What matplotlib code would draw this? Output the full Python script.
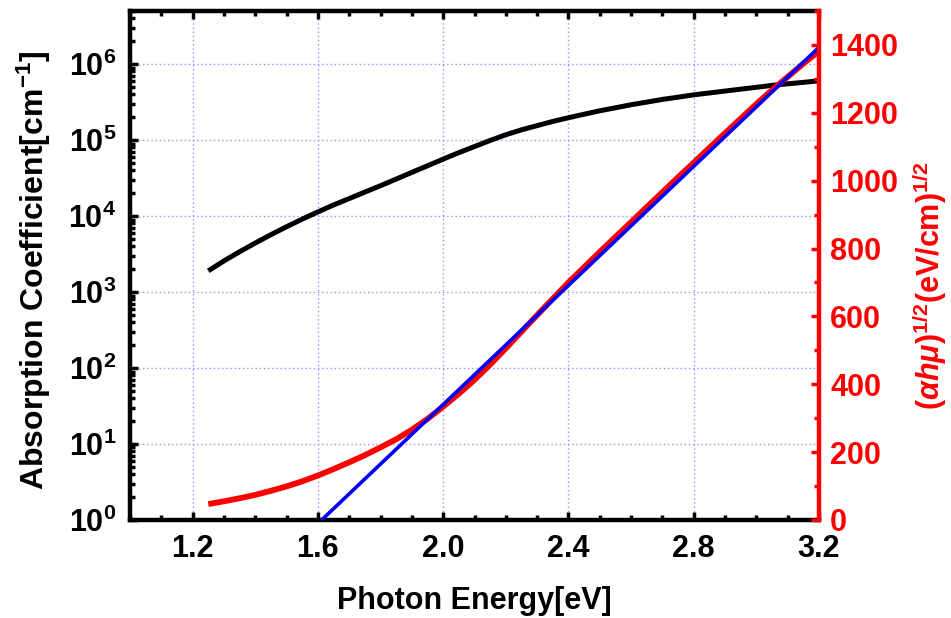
import numpy as np
import matplotlib.pyplot as plt
from matplotlib.ticker import MultipleLocator, LogLocator, FixedLocator, NullFormatter

plt.rcParams['font.family'] = ['Liberation Sans', 'DejaVu Sans']
plt.rcParams['font.weight'] = 'bold'
plt.rcParams['mathtext.fontset'] = 'custom'
plt.rcParams['mathtext.rm'] = 'Liberation Sans:bold'
plt.rcParams['mathtext.bf'] = 'Liberation Sans:bold'
plt.rcParams['mathtext.it'] = 'Liberation Sans:italic:bold'

# photon energy (eV)
energy = [1.25, 1.30, 1.35, 1.40, 1.45, 1.50, 1.55, 1.60, 1.65, 1.70,
          1.75, 1.80, 1.85, 1.90, 1.95, 2.00, 2.05, 2.10, 2.15, 2.20,
          2.25, 2.30, 2.35, 2.40, 2.45, 2.50, 2.55, 2.60, 2.65, 2.70,
          2.75, 2.80, 2.85, 2.90, 2.95, 3.00, 3.05, 3.10, 3.15, 3.20]
# absorption coefficient (cm^-1)
alpha = [1.9e3, 2.57e3, 3.39e3, 4.42e3, 5.69e3, 7.24e3, 9.12e3, 1.135e4, 1.40e4, 1.70e4,
         2.07e4, 2.51e4, 3.07e4, 3.76e4, 4.59e4, 5.62e4, 6.84e4, 8.22e4, 9.89e4, 1.175e5,
         1.365e5, 1.55e5, 1.76e5, 1.97e5, 2.19e5, 2.43e5, 2.66e5, 2.92e5, 3.16e5, 3.43e5,
         3.67e5, 3.94e5, 4.17e5, 4.42e5, 4.68e5, 4.95e5, 5.25e5, 5.5e5, 5.75e5, 6.03e5]
# (alpha h nu)^(1/2)
tauc = [47, 55, 64, 74, 86, 99, 114, 131, 150, 170,
        191, 214, 238, 266, 298, 334, 372, 413, 458, 506,
        555, 604, 652, 700, 745, 790, 834, 878, 922, 966,
        1010, 1053, 1097, 1140, 1183, 1226, 1267, 1306, 1345, 1382]
# linear fit of the Tauc plot
fit_x = [1.612, 3.2]
fit_y = [0, 1393]

fig = plt.figure(figsize=(9.51, 6.18), dpi=100)
ax = fig.add_axes([0.1367, 0.1586, 0.7245, 0.8236])
ax2 = ax.twinx()

ax.semilogy(energy, alpha, color='black', lw=3.6, solid_capstyle='butt', zorder=3)
ax2.plot(energy, tauc, color='#ff0000', lw=4.2, solid_capstyle='butt')
ax2.plot(fit_x, fit_y, color='#0000ff', lw=2.6, solid_capstyle='butt')

ax.set_xlim(1.0, 3.2)
ax.set_ylim(1, 5e6)
ax2.set_ylim(0, 1500)

ax.xaxis.set_major_locator(MultipleLocator(0.4))
ax.xaxis.set_minor_locator(MultipleLocator(0.1))
ax.xaxis.set_major_formatter(plt.FuncFormatter(lambda v, p: f'{v:.1f}'))
ax.yaxis.set_major_locator(FixedLocator([10.0 ** k for k in range(7)]))
ax.yaxis.set_minor_locator(LogLocator(base=10, subs=np.arange(2, 10), numticks=20))
ax.yaxis.set_minor_formatter(NullFormatter())
ax.yaxis.set_major_formatter(plt.FuncFormatter(lambda v, p: r'$10^{%d}$' % round(np.log10(v))))
ax2.yaxis.set_major_locator(MultipleLocator(200))
ax2.yaxis.set_minor_locator(MultipleLocator(100))

ax.grid(which='major', color='#7777ff', linestyle=(0, (1, 2)), linewidth=1.0, alpha=0.8)
ax.set_axisbelow(True)

ax.tick_params(axis='both', which='both', direction='in', top=True, right=False,
               width=2.5, labelsize=22, colors='black')
ax.tick_params(axis='both', which='major', length=6)
ax.tick_params(axis='both', which='minor', length=3.5)
ax.tick_params(axis='x', pad=10)
ax.tick_params(axis='y', pad=10)
ax2.tick_params(axis='y', which='both', direction='in', width=2.5, labelsize=22,
                colors='#ff0000', pad=8)
ax2.tick_params(axis='y', which='major', length=6)
ax2.tick_params(axis='y', which='minor', length=3.5)

for side in ['left', 'bottom', 'top']:
    ax.spines[side].set_linewidth(3.2)
ax.spines['right'].set_visible(False)
for side in ['left', 'bottom', 'top']:
    ax2.spines[side].set_visible(False)
ax2.spines['right'].set_linewidth(3.2)
ax2.spines['right'].set_color('#ff0000')

ax.set_xlabel('Photon Energy[eV]', fontsize=22, fontweight='bold', labelpad=16)
ax.set_ylabel(r'Absorption Coefficient[cm$^{-1}$]', fontsize=23, fontweight='bold')
ax.yaxis.set_label_coords(-0.112, 0.49)
ax2.set_ylabel(r'$(\alpha h\mu)^{1/2}$(eV/cm)$^{1/2}$', fontsize=22, fontweight='bold',
               color='#ff0000')
ax2.yaxis.set_label_coords(1.132, 0.46)

fig.savefig('out.png', dpi=100)
